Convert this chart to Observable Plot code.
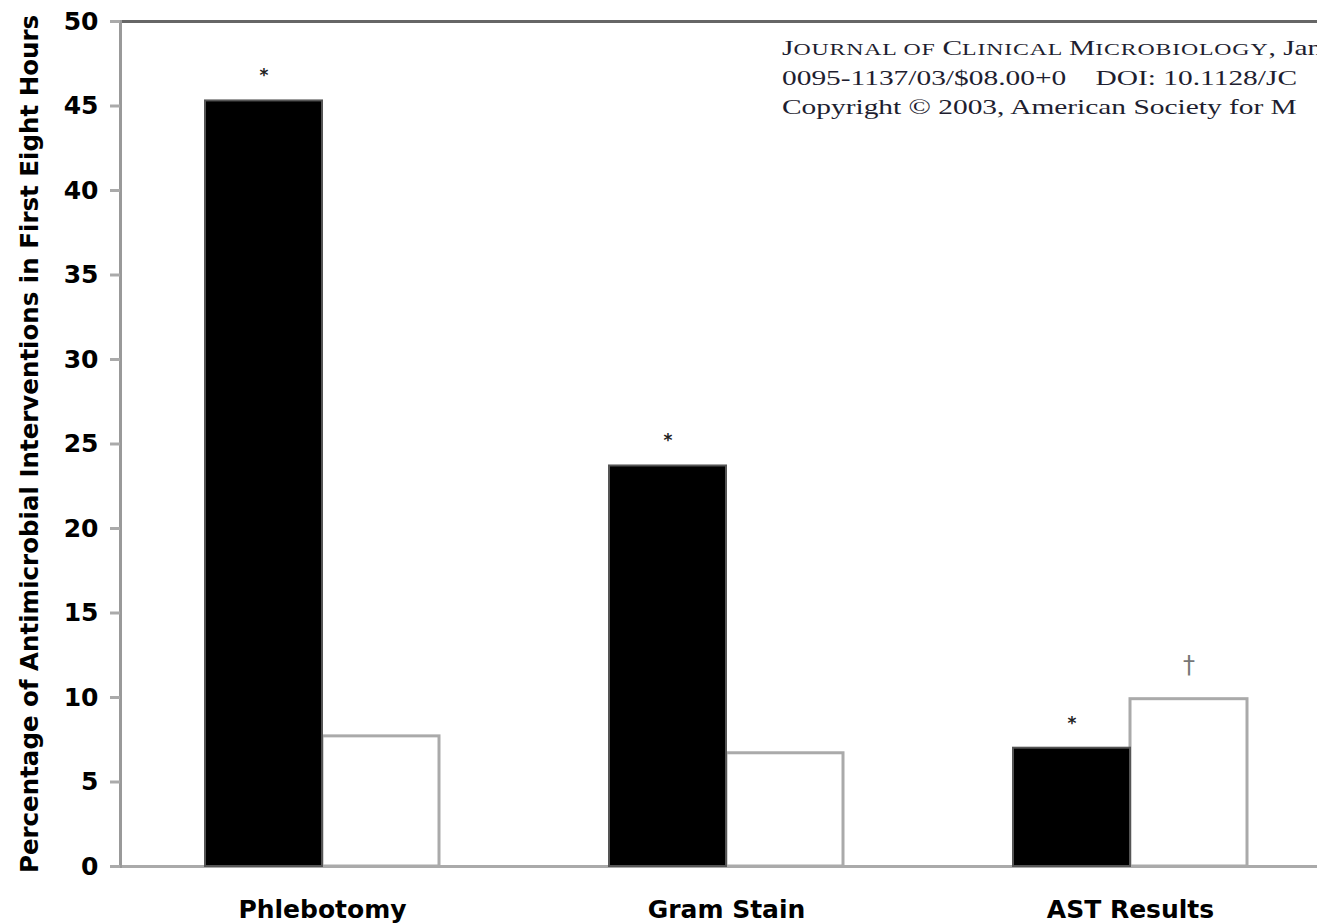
<!DOCTYPE html>
<html><head><meta charset="utf-8">
<script src="https://cdn.jsdelivr.net/npm/d3@7"></script>
<script src="https://cdn.jsdelivr.net/npm/@observablehq/plot@0.6"></script>
<style>
html,body{margin:0;padding:0;background:#fff;overflow:hidden;}
#wrap{position:relative;width:1317px;height:924px;overflow:hidden;background:#fff;}
#chart{position:absolute;left:0;top:0;width:1332px;}
#chart svg{max-width:none !important;}
#header{position:absolute;left:782px;top:34px;font-family:"Liberation Serif","Times New Roman",serif;font-size:21px;line-height:29.5px;color:#1e1e30;white-space:pre;transform:scaleX(1.4);transform-origin:0 0;}
#header div{height:29.5px;}
.s{font-size:17px;letter-spacing:0.6px;}
</style></head><body>
<div id="wrap"><div id="chart"></div>
<div id="header"><div>J<span class="s">OURNAL OF </span>C<span class="s">LINICAL </span>M<span class="s">ICROBIOLOGY</span>, Jan</div><div>0095-1137/03/$08.00+0    DOI: 10.1128/JC</div><div>Copyright © 2003, American Society for M</div></div></div>
<script>
const categories = ["Phlebotomy", "Gram Stain", "AST Results"];
const seriesNames = ["Series 1", "Series 2"];
const blackValues = [45.3, 23.7, 7.0];
const whiteValues = [7.7, 6.7, 9.9];
const blackMarks = ["*", "*", "*"];
const whiteMarks = ["", "", "†"];
const yTicks = [0, 5, 10, 15, 20, 25, 30, 35, 40, 45, 50];
const yLabel = "Percentage of Antimicrobial Interventions in First Eight Hours";

const rows = categories.flatMap((c, i) => [
  {category: c, series: seriesNames[0], value: blackValues[i], mark: blackMarks[i]},
  {category: c, series: seriesNames[1], value: whiteValues[i], mark: whiteMarks[i]}
]);

const sans = "'DejaVu Sans', sans-serif";
const chart = Plot.plot({
  width: 1332, height: 924,
  marginLeft: 120, marginRight: 0, marginTop: 21, marginBottom: 58,
  style: {fontFamily: sans, color: "black", background: "white", overflow: "visible", maxWidth: "none"},
  fx: {domain: categories, padding: 0, label: null},
  x: {domain: seriesNames, paddingInner: 0, paddingOuter: 0.726, axis: null},
  y: {domain: [0, 50]},
  marks: [
    Plot.ruleY([0], {stroke: "#aaa", strokeWidth: 3}),
    Plot.ruleY([50], {stroke: "#666", strokeWidth: 3}),
    Plot.frame({anchor: "left", facetAnchor: "left", stroke: "#999", strokeWidth: 3}),
    Plot.barY(rows, {filter: d => d.series === seriesNames[1], fx: "category", x: "series", y: "value", fill: "white", stroke: "#aaa", strokeWidth: 3}),
    Plot.barY(rows, {filter: d => d.series === seriesNames[0], fx: "category", x: "series", y: "value", fill: "black", stroke: "#555", strokeWidth: 2}),
    Plot.text(rows, {filter: d => d.mark === "*", fx: "category", x: "series", y: "value", text: "mark", dy: -25, fontSize: 17, fontWeight: "bold", fill: "#222"}),
    Plot.text(rows, {filter: d => d.mark === "†", fx: "category", x: "series", y: "value", text: "mark", dy: -34, fontSize: 24, fill: "#777"}),
    Plot.axisY({ticks: yTicks, tickSize: 10, tickPadding: 12, stroke: "#aaa", strokeWidth: 3, fontSize: 25, fontWeight: "bold", label: null}),
    Plot.axisY({ticks: [], label: yLabel, labelAnchor: "center", labelArrow: "none", labelOffset: 100, fontSize: 24.5, fontWeight: "bold"}),
    Plot.axisFx({anchor: "bottom", tickSize: 0, tickPadding: 34, fontSize: 25, fontWeight: "bold", label: null})
  ]
});
document.getElementById("chart").append(chart);
</script>
</body></html>
